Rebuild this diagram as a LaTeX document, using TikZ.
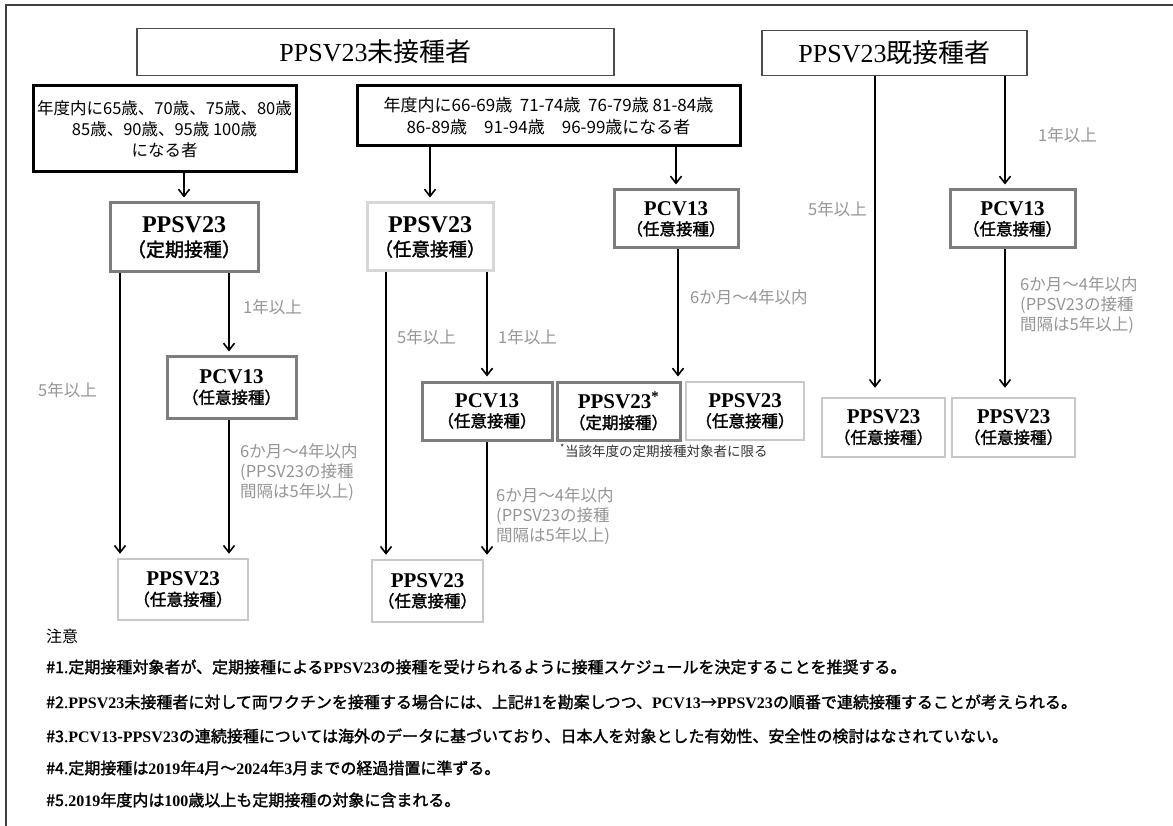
\documentclass[tikz,border=0pt]{standalone}
\usepackage{fontspec}
\setmainfont[AutoFakeBold=1.6]{Noto Sans CJK JP}
\newfontfamily\lat{Liberation Serif}
\usetikzlibrary{arrows.meta}
\newcommand\fs[2]{\fontsize{#1pt}{#2pt}\selectfont}
\definecolor{lblgray}{RGB}{150,150,150}
\definecolor{boxgray}{RGB}{125,125,125}
\definecolor{lightgray2}{RGB}{215,215,215}
\definecolor{lightgray3}{RGB}{200,200,200}
\begin{document}
\begin{tikzpicture}[x=1pt,y=-1pt,
  frame/.style={line width=1.5pt,draw=black!75},
  titlebox/.style={draw=black!70,line width=1.4pt,inner sep=0pt,font=\fs{26}{30}},
  blk/.style={draw=black,line width=3pt,inner sep=0pt,align=center,font=\fs{17}{21.5}},
  gbox/.style={draw=boxgray,line width=3pt,inner sep=0pt,align=center},
  lbox/.style={draw=lightgray2,line width=3pt,inner sep=0pt,align=center},
  mbox/.style={draw=lightgray3,line width=2.5pt,inner sep=0pt,align=center},
  lbl/.style={text=lblgray,anchor=west,inner sep=0pt,align=left,font=\fs{16.5}{20}},
  arr/.style={-{Straight Barb[length=7pt,width=11pt,line width=1.6pt]},line width=1.6pt,shorten >=4pt},
  notes/.style={anchor=west,inner sep=0pt,font=\fs{16}{18}}
]
\useasboundingbox (0,0) rectangle (1173,826);
\fill[white] (0,0) rectangle (1173,826);
\draw[frame] (6,826) -- (6,5) -- (1173,5);

% titles
\node[titlebox,minimum width=477pt,minimum height=47pt] (t1) at (375.5,52) {{\lat PPSV23}未接種者};
\node[titlebox,minimum width=265pt,minimum height=45pt] (t2) at (894.5,53) {{\lat PPSV23}既接種者};

% age boxes
\node[blk,minimum width=263pt,minimum height=86pt,font=\fs{16.5}{21}] (A) at (164.5,129)
  {年度内に65歳、70歳、75歳、80歳\\85歳、90歳、95歳\ 100歳\\になる者};
\node[blk,minimum width=383pt,minimum height=60pt] (B) at (548.5,116)
  {年度内に66-69歳\ \ 71-74歳\ \ 76-79歳\ 81-84歳\\86-89歳　91-94歳　96-99歳になる者};

% second row
\node[gbox,minimum width=148pt,minimum height=69pt,font=\fs{19}{24}] (P1) at (184,237.5)
  {{\lat\bfseries\fs{24}{24}PPSV23}\\{\bfseries （定期接種）}};
\node[lbox,minimum width=126pt,minimum height=68pt,font=\fs{18.5}{24}] (P2) at (430,237)
  {{\lat\bfseries\fs{24}{24}PPSV23}\\{\bfseries （任意接種）}};
\node[gbox,minimum width=124pt,minimum height=58pt,font=\fs{16.5}{20}] (C1) at (676,219)
  {{\lat\bfseries\fs{21}{21}PCV13}\\{\bfseries （任意接種）}};
\node[gbox,minimum width=125pt,minimum height=58pt,font=\fs{16.5}{20}] (C2) at (1012.5,219)
  {{\lat\bfseries\fs{21}{21}PCV13}\\{\bfseries （任意接種）}};

% third row
\node[gbox,minimum width=129pt,minimum height=61pt,font=\fs{16.5}{20}] (C3) at (231.5,387.5)
  {{\lat\bfseries\fs{21}{21}PCV13}\\{\bfseries （任意接種）}};
\node[gbox,minimum width=130pt,minimum height=58pt,font=\fs{16.5}{20}] (C4) at (487,411)
  {{\lat\bfseries\fs{21}{21}PCV13}\\{\bfseries （任意接種）}};
\node[gbox,minimum width=123pt,minimum height=58pt,font=\fs{16.5}{20}] (P3) at (618.5,411)
  {{\lat\bfseries\fs{21}{21}PPSV23\textsuperscript{*}}\\{\bfseries （定期接種）}};
\node[mbox,minimum width=118pt,minimum height=58pt,font=\fs{16.5}{20}] (P4) at (745,411)
  {{\lat\bfseries\fs{21}{21}PPSV23}\\{\bfseries （任意接種）}};
\node[mbox,minimum width=123pt,minimum height=59pt,font=\fs{16.5}{20}] (P5) at (883.5,427.5)
  {{\lat\bfseries\fs{21}{21}PPSV23}\\{\bfseries （任意接種）}};
\node[mbox,minimum width=123pt,minimum height=59pt,font=\fs{16.5}{20}] (P6) at (1013.5,427.5)
  {{\lat\bfseries\fs{21}{21}PPSV23}\\{\bfseries （任意接種）}};
\node[font=\fs{13.5}{15},text=black!80,anchor=west,inner sep=0pt] (fn) at (560,451)
  {\textsuperscript{*}当該年度の定期接種対象者に限る};

% bottom row
\node[mbox,minimum width=130pt,minimum height=61pt,font=\fs{16.5}{20}] (P7) at (183,589.5)
  {{\lat\bfseries\fs{21}{21}PPSV23}\\{\bfseries （任意接種）}};
\node[mbox,minimum width=111pt,minimum height=62pt,font=\fs{16.5}{20}] (P8) at (427.5,591)
  {{\lat\bfseries\fs{21}{21}PPSV23}\\{\bfseries （任意接種）}};

% column coordinates
\coordinate (c1) at (120,0);
\coordinate (c2) at (229,0);
\coordinate (c3) at (386,0);
\coordinate (c4) at (487,0);
\coordinate (c5) at (678,0);
\coordinate (r1) at (875,0);
\coordinate (r2) at (1005,0);

% arrows
\draw[arr] (P1.north |- A.south) -- (P1.north);
\draw[arr] (P2.north |- B.south) -- (P2.north);
\draw[arr] (C1.north |- B.south) -- (C1.north);
\draw[arr] (t2.south -| r2) -- (C2.north -| r2);
\draw[arr,shorten >=9pt] (t2.south -| r1) -- (P5.north -| r1);
\draw[arr,shorten >=9pt] (C2.south -| r2) -- (P6.north -| r2);
\draw[arr] (P1.south -| c1) -- (P7.north -| c1);
\draw[arr] (P1.south -| c2) -- (C3.north -| c2);
\draw[arr] (C3.south -| c2) -- (P7.north -| c2);
\draw[arr] (P2.south -| c3) -- (P8.north -| c3);
\draw[arr] (P2.south -| c4) -- (C4.north -| c4);
\draw[arr] (C4.south -| c4) -- (P8.north -| c4);
\draw[arr] (C1.south -| c5) -- (P3.north -| c5);

% labels
\node[lbl] (l1) at (1038,135) {1年以上};
\node[lbl,anchor=east] (l2) at (867,209) {5年以上};
\node[lbl] (l3) at (243,307) {1年以上};
\node[lbl] (l4) at (38,390) {5年以上};
\node[lbl] (l5) at (240,472) {6か月～4年以内\\(PPSV23の接種\\間隔は5年以上)};
\node[lbl] (l6) at (397,337) {5年以上};
\node[lbl] (l7) at (498,337) {1年以上};
\node[lbl] (l8) at (496,516) {6か月～4年以内\\(PPSV23の接種\\間隔は5年以上)};
\node[lbl] (l9) at (690,297) {6か月～4年以内};
\node[lbl] (l10) at (1020,305) {6か月～4年以内\\(PPSV23の接種\\間隔は5年以上)};

% notes
\node[notes] (n0) at (46,636) {注意};
\node[notes] (n1) at (46,667) {\bfseries \#1.定期接種対象者が、定期接種による{\lat PPSV23}の接種を受けられるように接種スケジュールを決定することを推奨する。};
\node[notes] (n2) at (46,702) {\bfseries \#2.{\lat PPSV23}未接種者に対して両ワクチンを接種する場合には、上記\#1を勘案しつつ、{\lat PCV13}→{\lat PPSV23}の順番で連続接種することが考えられる。};
\node[notes] (n3) at (46,736) {\bfseries \#3.{\lat PCV13}-{\lat PPSV23}の連続接種については海外のデータに基づいており、日本人を対象とした有効性、安全性の検討はなされていない。};
\node[notes] (n4) at (46,768) {\bfseries \#4.定期接種は{\lat 2019}年{\lat 4}月～{\lat 2024}年{\lat 3}月までの経過措置に準ずる。};
\node[notes] (n5) at (46,800) {\bfseries \#5.{\lat 2019}年度内は{\lat 100}歳以上も定期接種の対象に含まれる。};
\end{tikzpicture}
\end{document}
